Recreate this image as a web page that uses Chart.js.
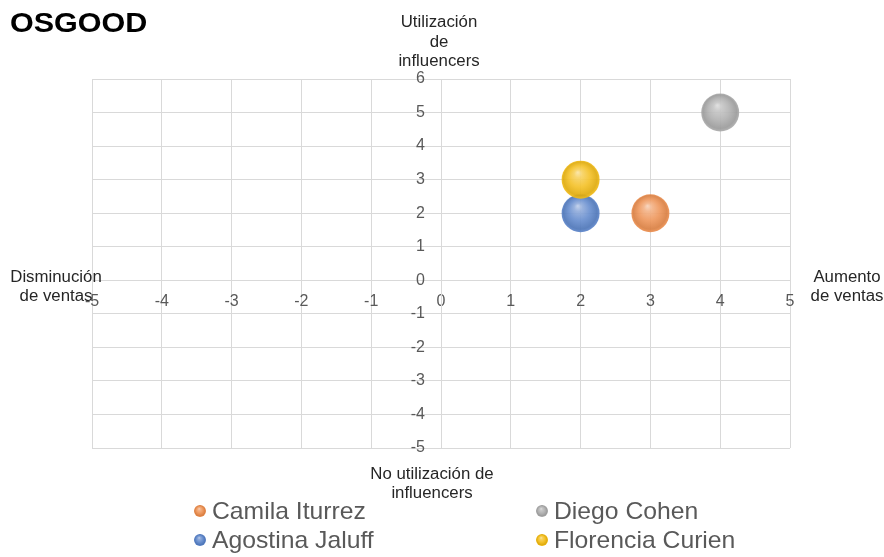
<!DOCTYPE html>
<html><head><meta charset="utf-8">
<script src="https://cdn.jsdelivr.net/npm/chart.js@4/dist/chart.umd.min.js"></script>
<style>html,body{margin:0;padding:0;background:#fff;}#wrap{width:884px;height:557px;position:relative;}</style>
</head><body><div id="wrap"><canvas id="c"></canvas></div>
<script>
const chartTitle = 'OSGOOD';
const seriesNames = ['Camila Iturrez', 'Diego Cohen', 'Agostina Jaluff', 'Florencia Curien'];
const salesValues = [3, 4, 2, 2];          // x: ventas
const influencerValues = [2, 5, 2, 3];     // y: influencers
const seriesColors = ['#EC8A48', '#A9A9A9', '#5580C8', '#F2BA0E'];
const drawOrder = [3, 2, 1, 0];
const xRange = [-5, 5];
const yRange = [-5, 6];
const topTitle = ['Utilización', 'de', 'influencers'];
const bottomTitle = ['No utilización de', 'influencers'];
const leftTitle = ['Disminución', 'de ventas'];
const rightTitle = ['Aumento', 'de ventas'];

const FONT = '"Liberation Sans", Arial, sans-serif';
function hexToRgb(h){const n=parseInt(h.slice(1),16);return [(n>>16)&255,(n>>8)&255,n&255];}
function mix(h, t, amt, a){const c=hexToRgb(h);return 'rgba('+c.map((v,i)=>Math.round(v+(t[i]-v)*amt)).join(',')+','+(a===undefined?1:a)+')';}
function sphere(g, cx, cy, r, base, alpha){
  const W=[255,255,255], K=[0,0,0];
  const grad = g.createRadialGradient(cx - r*0.15, cy - r*0.38, r*0.02, cx, cy, r);
  grad.addColorStop(0, mix(base,W,0.6,alpha));
  grad.addColorStop(0.2, mix(base,W,0.35,alpha));
  grad.addColorStop(0.55, mix(base,W,0.12,alpha));
  grad.addColorStop(0.88, mix(base,K,0.08,alpha));
  grad.addColorStop(1, mix(base,W,0.05,alpha));
  return grad;
}

const datasets = seriesNames.map((name, i) => ({
  label: name,
  data: [{x: salesValues[i], y: influencerValues[i]}],
  order: drawOrder[i],
  radius: 19,
  borderWidth: 0,
  baseColor: seriesColors[i],
  backgroundColor: (c) => {
    const base = seriesColors[i];
    if (c.type !== 'data' || !c.parsed) return base;
    const ch = c.chart;
    const px = ch.scales.x.getPixelForValue(c.parsed.x);
    const py = ch.scales.y.getPixelForValue(c.parsed.y);
    if (!isFinite(px) || !isFinite(py)) return base;
    return sphere(ch.ctx, px, py, 19, base, 0.92);
  }
}));

function stretchText(g, text, x, y, sx){
  g.save(); g.translate(x, y); g.scale(sx, 1); g.fillText(text, 0, 0); g.restore();
}

const yLabelShift = {
  id: 'yLabelShift',
  afterUpdate(chart){
    const items = chart.scales.y.getLabelItems(chart.chartArea);
    items.forEach(it => { it.options.translation[0] -= 16; });
  }
};

const overlay = {
  id: 'overlay',
  afterDraw(chart){
    const g = chart.ctx;
    g.save();
    g.fillStyle = '#000';
    g.font = 'bold 28px ' + FONT;
    g.textAlign = 'left'; g.textBaseline = 'middle';
    stretchText(g, chartTitle, 10, 24, 1.09);

    g.font = '16px ' + FONT;
    g.fillStyle = '#262626';
    g.textAlign = 'center';
    topTitle.forEach((t, k) => stretchText(g, t, 439, 23 + k*19.5, 1.05));
    bottomTitle.forEach((t, k) => stretchText(g, t, 432, 475 + k*18.5, 1.05));
    leftTitle.forEach((t, k) => stretchText(g, t, 56, 278 + k*18.5, 1.05));
    rightTitle.forEach((t, k) => stretchText(g, t, 847, 278 + k*18.5, 1.05));

    // legend
    g.font = '24px ' + FONT;
    g.textAlign = 'left';
    const colX = [200, 542], rowY = [511, 540];
    chart.data.datasets.forEach((ds, i) => {
      const mx = colX[i % 2], my = rowY[Math.floor(i / 2)];
      g.beginPath();
      g.arc(mx, my, 6, 0, Math.PI*2);
      g.fillStyle = sphere(g, mx, my, 6, ds.baseColor, 1);
      g.fill();
      g.fillStyle = '#595959';
      stretchText(g, ds.label, mx + 12, my + 1, 1.03);
    });
    g.restore();
  }
};

new Chart(document.getElementById('c'), {
  type: 'bubble',
  data: { datasets },
  options: {
    responsive: true,
    maintainAspectRatio: false,
    animation: false,
    events: [],
    layout: { padding: { left: 92, right: 94, top: 79, bottom: 109 } },
    plugins: { legend: { display: false }, title: { display: false }, tooltip: { enabled: false } },
    scales: {
      x: {
        type: 'linear', min: xRange[0], max: xRange[1],
        position: { y: 0 },
        ticks: { stepSize: 1, padding: 12, color: '#595959', font: { family: FONT, size: 16 }, maxRotation: 0, autoSkip: false },
        grid: { color: '#D9D9D9', lineWidth: 1, drawTicks: false },
        border: { color: '#D9D9D9', width: 1 }
      },
      y: {
        type: 'linear', min: yRange[0], max: yRange[1],
        position: { x: 0 },
        ticks: { stepSize: 1, padding: 16, color: '#595959', font: { family: FONT, size: 16 }, autoSkip: false },
        grid: { color: '#D9D9D9', lineWidth: 1, drawTicks: false },
        border: { color: '#D9D9D9', width: 1 }
      }
    }
  },
  plugins: [yLabelShift, overlay]
});
</script></body></html>
